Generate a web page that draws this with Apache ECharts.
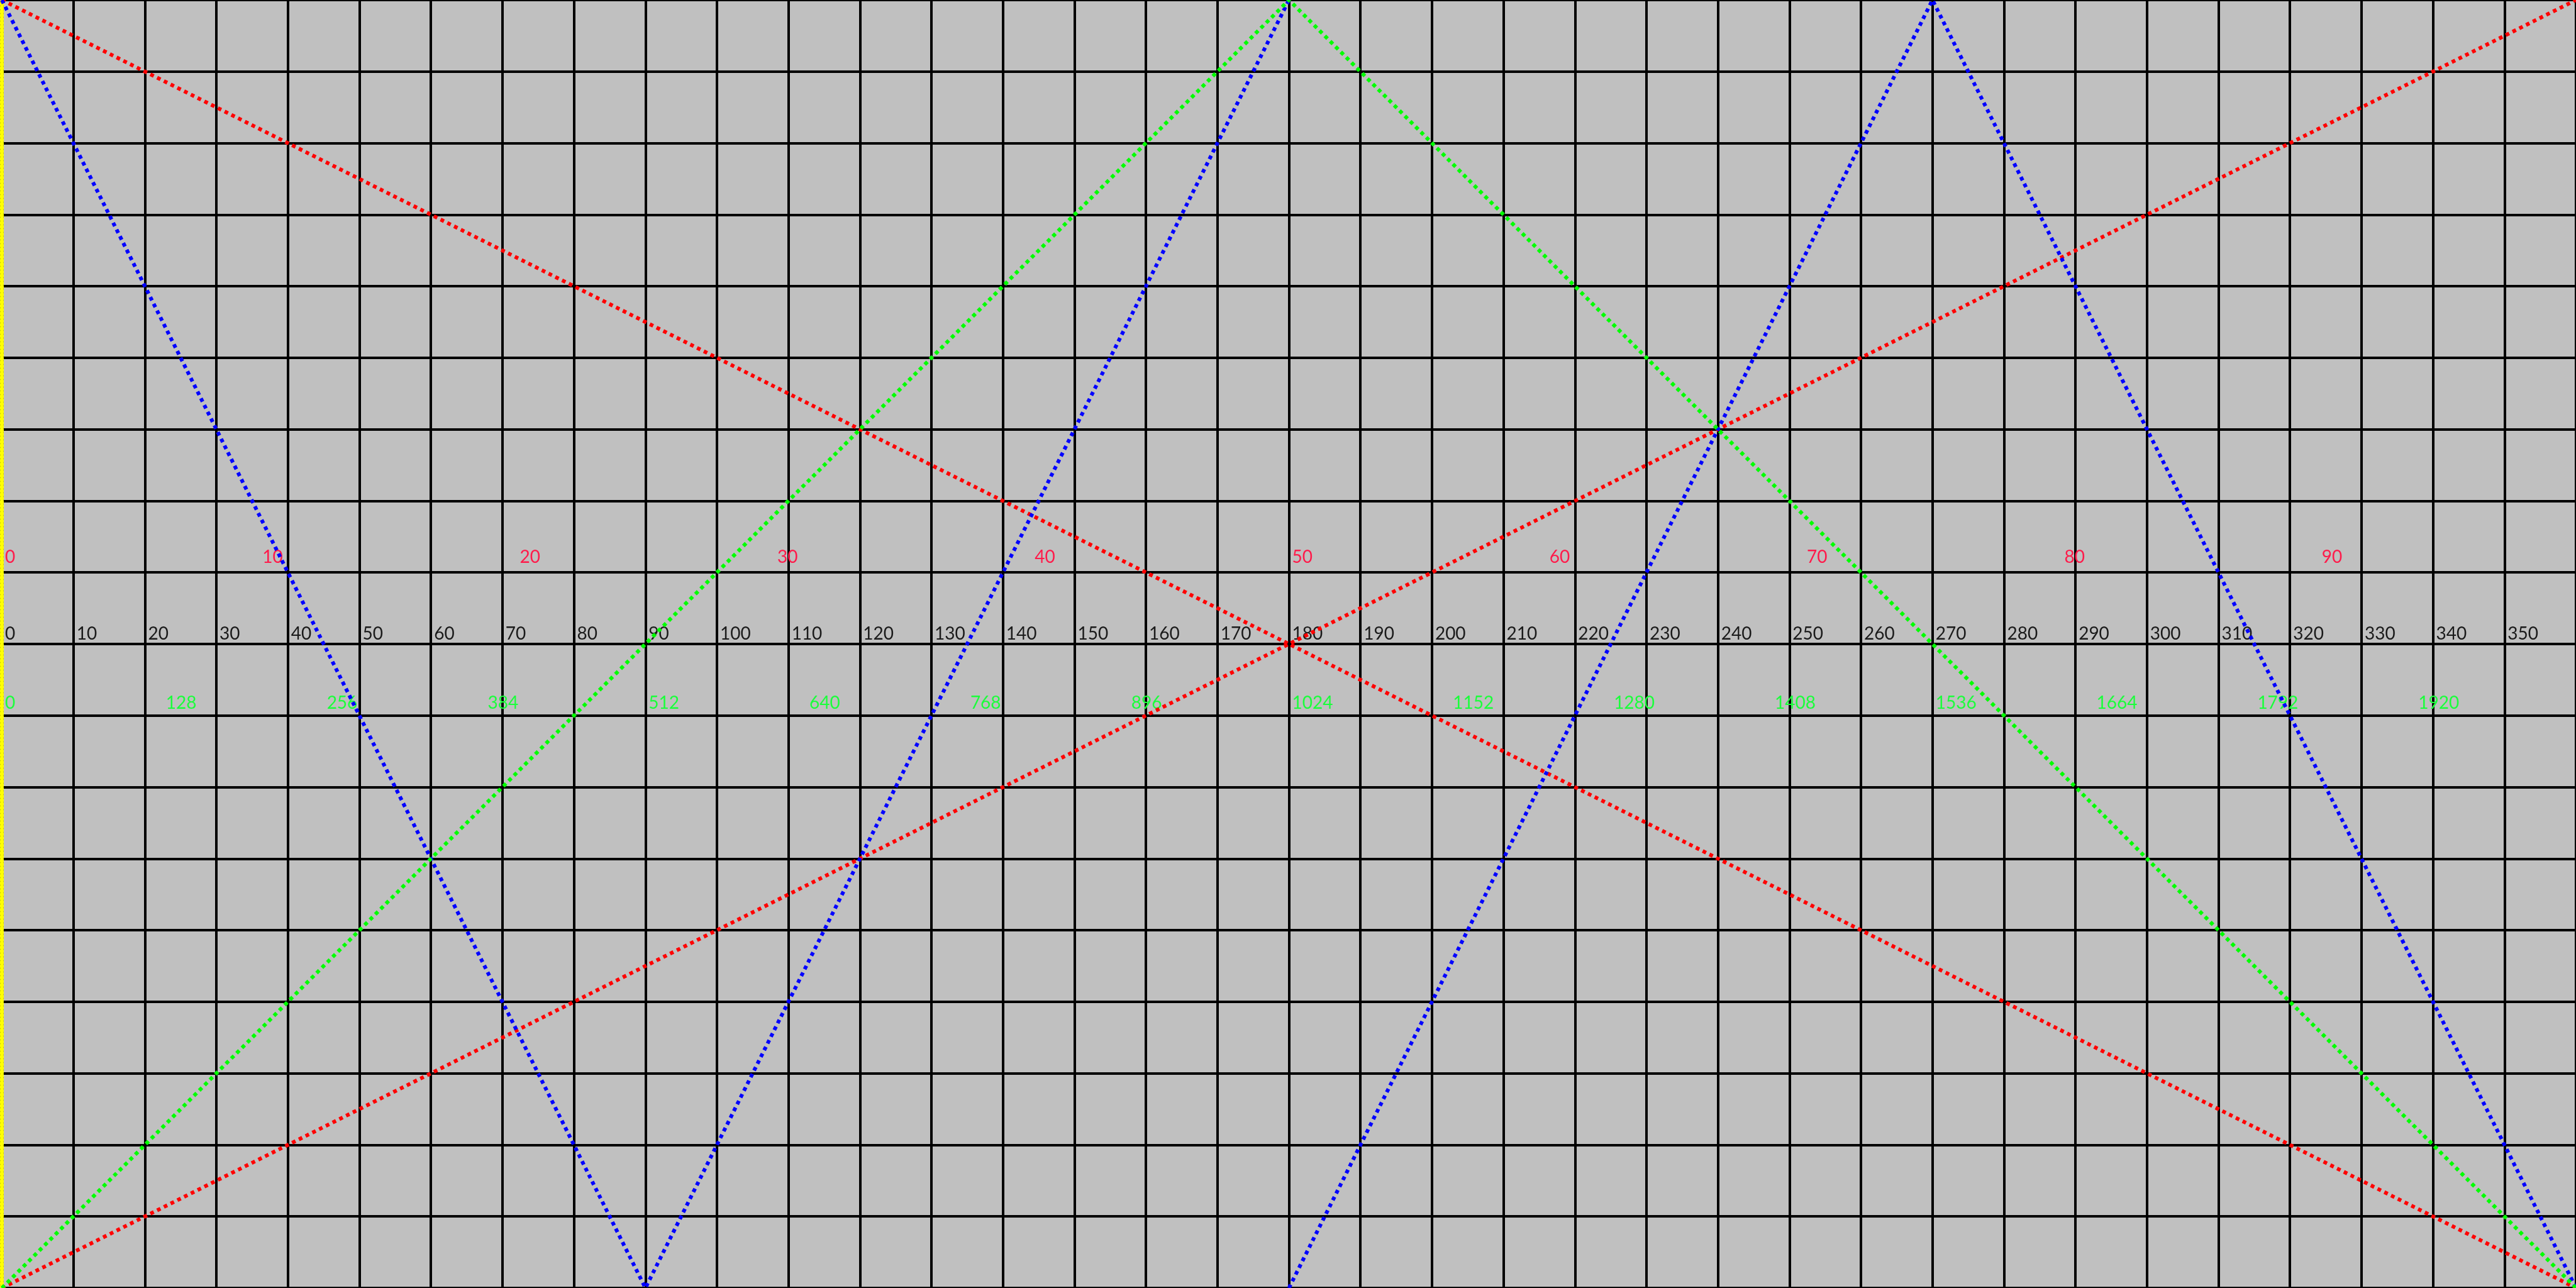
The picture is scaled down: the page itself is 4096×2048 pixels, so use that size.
<!DOCTYPE html>
<html>
<head>
<meta charset="utf-8">
<script src="https://cdn.jsdelivr.net/npm/echarts@6/dist/echarts.min.js"></script>
<style>
html,body{margin:0;padding:0;background:#c0c0c0;}
#chart{width:4096px;height:2048px;}
</style>
</head>
<body>
<div id="chart"></div>
<script>
// Axis ranges and tick steps
const degreeRange = [0, 360];
const degreeStep = 10;
const rowRange = [0, 18];
const rowStep = 1;
const percentRange = [0, 100];
const percentStep = 10;
const levelRange = [0, 2048];
const levelStep = 128;

// Series (x in degrees, y in grid rows from the bottom)
const redFalling = [[0, 18], [360, 0]];
const redRising = [[0, 0], [360, 18]];
const greenTriangle = [[0, 0], [180, 18], [360, 0]];
const blueSaw = [[0, 18], [90, 0], [180, 18], [180, '-'], [180, 0], [270, 18], [360, 0]];

const labelFont = 'Lato';
const labelSize = 28;

const chart = echarts.init(document.getElementById('chart'), null, {renderer: 'canvas'});

function labelAxis(range, step, offset, color, margin) {
  return {
    type: 'value', min: range[0], max: range[1], interval: step,
    position: 'bottom', offset: offset,
    axisLine: {show: false}, axisTick: {show: false}, splitLine: {show: false},
    axisLabel: {
      inside: true, margin: margin, color: color, fontFamily: labelFont, fontSize: labelSize,
      lineHeight: labelSize, align: 'left', verticalAlign: 'bottom', padding: [0, 0, 0, 5],
      showMaxLabel: false, showMinLabel: true,
      formatter: function (v) { return String(v); }
    }
  };
}

const degAxis = labelAxis(degreeRange, degreeStep, -1024, '#1a1a1a', 2);
degAxis.splitLine = {show: true, lineStyle: {color: '#000', width: 4}};

const dotStyle = {width: 6, type: [6, 6], cap: 'butt'};

const option = {
  backgroundColor: '#c0c0c0',
  animation: false,
  grid: {left: 0, right: 0, top: 0, bottom: 0, containLabel: false},
  xAxis: [
    degAxis,
    labelAxis(percentRange, percentStep, -1138, '#ff1a4a', 10),
    labelAxis(levelRange, levelStep, -910, '#1aff3a', 6)
  ],
  yAxis: [
    {
      type: 'value', min: rowRange[0], max: rowRange[1], interval: rowStep, position: 'left',
      z: 3,
      axisLine: {show: true, lineStyle: {color: '#ffff00', width: 6, type: [3, 3]}},
      axisTick: {show: false}, axisLabel: {show: false},
      splitLine: {show: true, lineStyle: {color: '#000', width: 4}}
    },
    {
      type: 'value', min: rowRange[0], max: rowRange[1], interval: rowStep, position: 'left',
      z: 1,
      axisLine: {show: true, lineStyle: {color: '#000', width: 6}},
      axisTick: {show: false}, axisLabel: {show: false}, splitLine: {show: false}
    }
  ],
  series: [
    {type: 'line', data: redFalling, xAxisIndex: 0, yAxisIndex: 0, symbol: 'none', silent: true, z: 5,
     lineStyle: Object.assign({color: '#ff0000'}, dotStyle)},
    {type: 'line', data: redRising, xAxisIndex: 0, yAxisIndex: 0, symbol: 'none', silent: true, z: 5,
     lineStyle: Object.assign({color: '#ff0000'}, dotStyle)},
    {type: 'line', data: blueSaw, xAxisIndex: 0, yAxisIndex: 0, symbol: 'none', silent: true, z: 6,
     connectNulls: false, lineStyle: Object.assign({color: '#0000ff'}, dotStyle)},
    {type: 'line', data: greenTriangle, xAxisIndex: 0, yAxisIndex: 0, symbol: 'none', silent: true, z: 7,
     lineStyle: Object.assign({color: '#00ff00'}, dotStyle)}
  ]
};
chart.setOption(option);
</script>
</body>
</html>
